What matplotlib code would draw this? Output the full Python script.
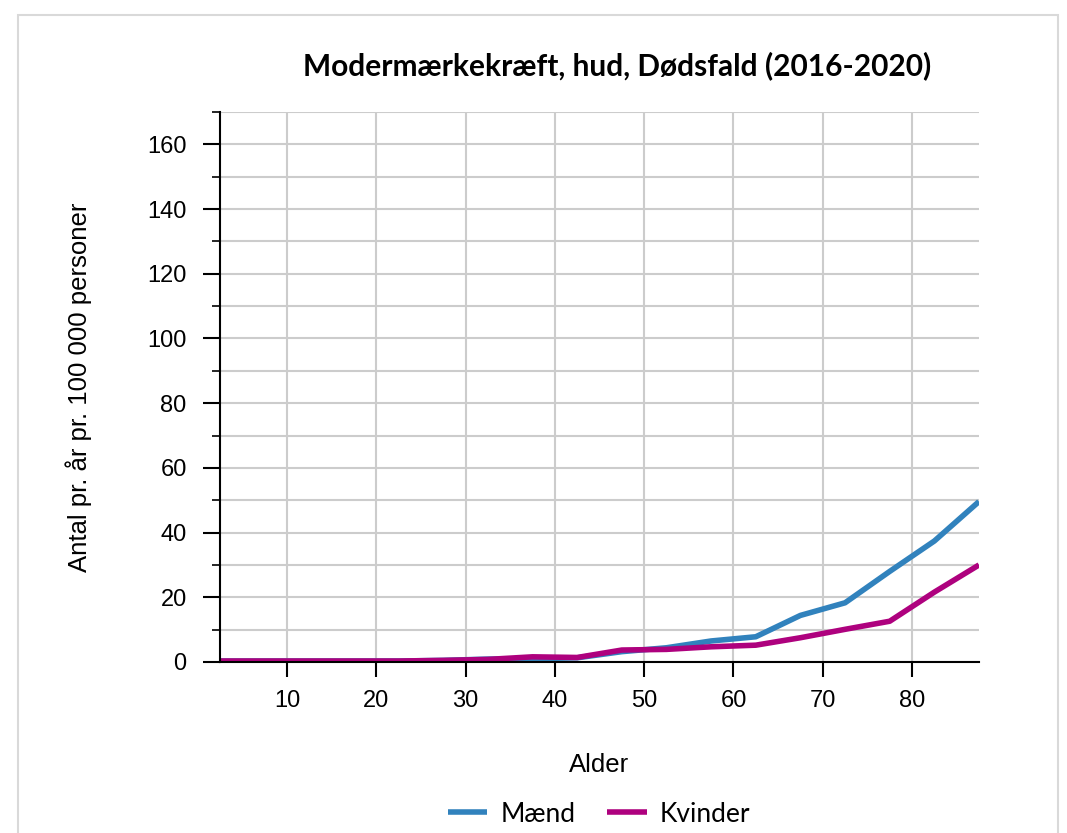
import matplotlib
matplotlib.use("Agg")
from matplotlib import pyplot as plt
from matplotlib.patches import Rectangle
from matplotlib.ticker import MultipleLocator

alder = [2.5, 7.5, 12.5, 17.5, 22.5, 27.5, 32.5, 37.5, 42.5,
         47.5, 52.5, 57.5, 62.5, 67.5, 72.5, 77.5, 82.5, 87.5]
maend = [0.3, 0.3, 0.3, 0.3, 0.3, 0.5, 0.9, 1.0, 1.3,
         3.2, 4.4, 6.5, 7.8, 14.4, 18.3, 28.0, 37.4, 49.6]
kvinder = [0.3, 0.3, 0.3, 0.3, 0.3, 0.5, 0.8, 1.6, 1.4,
           3.7, 3.9, 4.7, 5.2, 7.5, 10.1, 12.6, 21.6, 30.0]

fig = plt.figure(figsize=(10.67, 8.33), dpi=100)
fig.patches.append(Rectangle((18 / 1067, -0.05), 1040 / 1067, 1.05 - 15 / 833,
                             transform=fig.transFigure, fill=False,
                             edgecolor='#d9d9d9', linewidth=1.5))

ax = fig.add_axes([220 / 1067, 1 - 662 / 833, 759 / 1067, 550 / 833])
ax.plot(alder, maend, color='#3182bd', lw=4.0, label='Mænd', solid_capstyle='butt')
ax.plot(alder, kvinder, color='#ae017e', lw=4.0, label='Kvinder', solid_capstyle='butt')

ax.set_xlim(2.5, 87.5)
ax.set_ylim(0, 170)
ax.set_xticks(range(10, 90, 10))
ax.yaxis.set_major_locator(MultipleLocator(20))
ax.yaxis.set_minor_locator(MultipleLocator(10))
ax.grid(True, which='both', color='#cccccc', lw=1.5)
ax.set_axisbelow(True)
for s in ['top', 'right']:
    ax.spines[s].set_visible(False)
for s in ['left', 'bottom']:
    ax.spines[s].set_linewidth(1.5)
ax.tick_params(axis='y', which='major', length=12, width=1.5, labelsize=17, pad=12)
ax.tick_params(axis='y', which='minor', length=6, width=1.2)
ax.tick_params(axis='x', which='major', length=11, width=1.5, labelsize=17, pad=9)
for lbl in ax.get_xticklabels() + ax.get_yticklabels():
    lbl.set_fontfamily('Liberation Sans')

ax.set_xlabel('Alder', fontsize=18.5, family='Liberation Sans', labelpad=30)
ax.set_ylabel('Antal pr. år pr. 100 000 personer', fontsize=18.5,
              family='Liberation Sans', labelpad=40)
fig.text(617 / 1067, 1 - 66 / 833, 'Modermærkekræft, hud, Dødsfald (2016-2020)',
         ha='center', va='center', fontsize=21.5, fontweight='bold', family='Lato')

fig.legend(loc='center', bbox_to_anchor=(599 / 1067, 1 - 814 / 833), ncol=2,
           frameon=False, prop={'family': 'Lato', 'size': 19},
           handlelength=1.5, columnspacing=1.2, handletextpad=0.5)

fig.savefig('out.png', dpi=100)
